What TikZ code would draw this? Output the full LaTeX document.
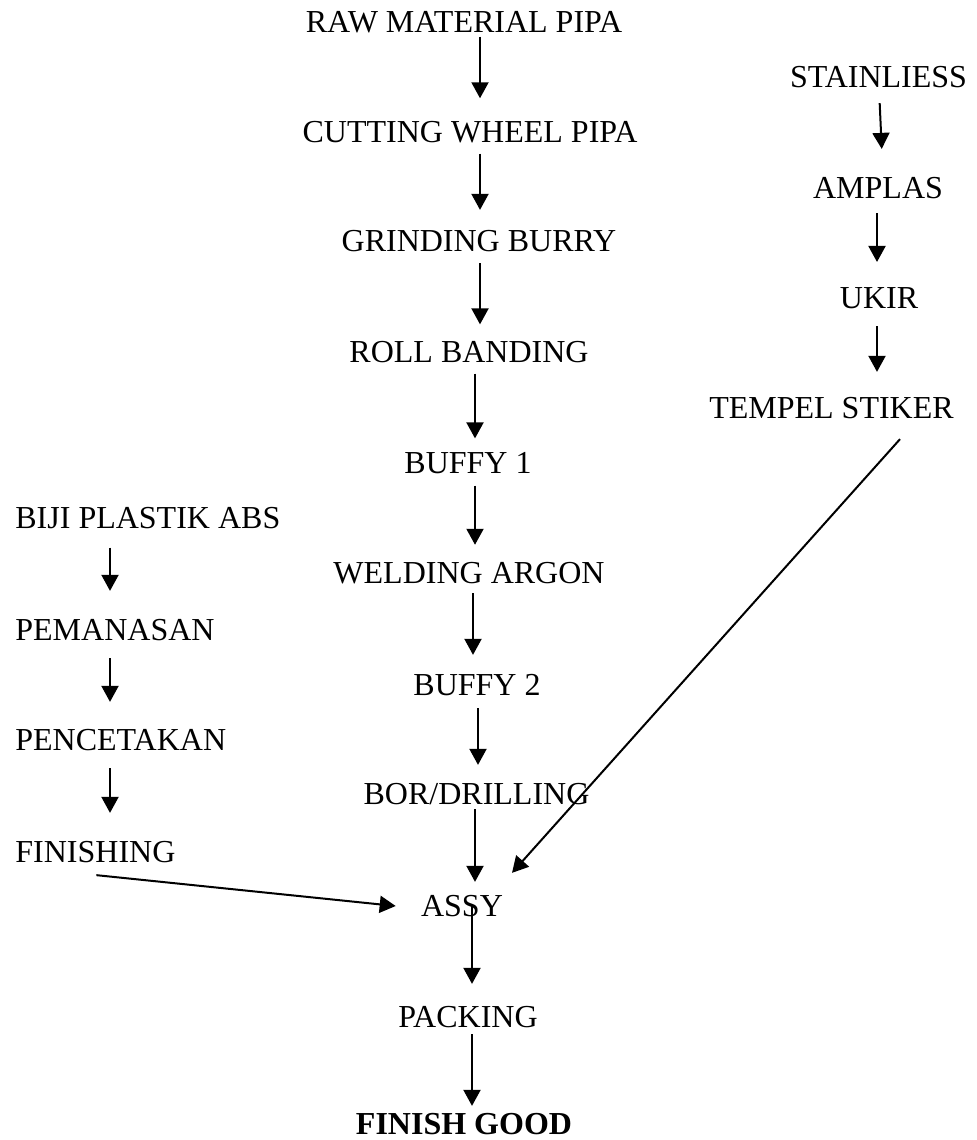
\documentclass[tikz,border=0pt]{standalone}
\usepackage{fontspec}
\setmainfont{Liberation Serif}
\usetikzlibrary{arrows.meta}
\begin{document}
\begin{tikzpicture}[x=0.5pt,y=-0.5pt,
  lbl/.style={inner sep=0pt,font=\fontsize{16}{19}\selectfont},
  lblw/.style={lbl,anchor=west},
  arr/.style={line width=1pt,-{Triangle[width=8.5pt,length=8pt]}}]
\useasboundingbox (0,0) rectangle (976,1140);
% main column
\node[lbl] (raw) at (464,22.5) {RAW MATERIAL PIPA};
\node[lbl] (cut) at (470,132.5) {CUTTING WHEEL PIPA};
\node[lbl] (grind) at (479,241) {GRINDING BURRY};
\node[lbl] (roll) at (469,352.5) {ROLL BANDING};
\node[lbl] (buf1) at (468,463.5) {BUFFY 1};
\node[lbl] (weld) at (469,573) {WELDING ARGON};
\node[lbl] (buf2) at (477,685) {BUFFY 2};
\node[lbl] (bor) at (476.5,794) {BOR/DRILLING};
\node[lbl] (assy) at (462,906) {ASSY};
\node[lbl] (pack) at (468,1017) {PACKING};
\node[lbl,font=\fontsize{16}{19}\selectfont\bfseries] (fin) at (464,1124) {FINISH GOOD};
% right column
\node[lbl] (stain) at (878.5,77) {STAINLIESS};
\node[lbl] (amplas) at (878,188) {AMPLAS};
\node[lbl] (ukir) at (879,298) {UKIR};
\node[lbl] (tempel) at (831.5,408) {TEMPEL STIKER};
% left column
\node[lblw] (biji) at (15,518.5) {BIJI PLASTIK ABS};
\node[lblw] (peman) at (15,630) {PEMANASAN};
\node[lblw] (pence) at (15,740) {PENCETAKAN};
\node[lblw] (finishing) at (15,852) {FINISHING};
% main arrows
\draw[arr,shorten <=1.5pt,shorten >=11.5pt] (raw.south -| 480,0) -- (cut.north -| 480,0);
\draw[arr,shorten <=5pt,shorten >=10pt] (cut.south -| 480,0) -- (grind.north -| 480,0);
\draw[arr,shorten <=5.5pt,shorten >=8.5pt] (grind.south -| 480,0) -- (roll.north -| 480,0);
\draw[arr,shorten <=5pt,shorten >=7pt] (roll.south -| 475,0) -- (buf1.north -| 475,0);
\draw[arr,shorten <=5.5pt,shorten >=8.5pt] (buf1.south -| 475,0) -- (weld.north -| 475,0);
\draw[arr,shorten <=4.5pt,shorten >=9.5pt] (weld.south -| 473,0) -- (buf2.north -| 473,0);
\draw[arr,shorten <=6pt,shorten >=9pt] (buf2.south -| 478,0) -- (bor.north -| 478,0);
\draw[arr,shorten <=2pt,shorten >=6.5pt] (bor.south -| 475,0) -- (assy.north -| 475,0);
\draw[arr,shorten <=-6pt,shorten >=11pt] (assy.south -| 472,0) -- (pack.north -| 472,0);
\draw[arr,shorten <=3pt,shorten >=3.5pt] (pack.south -| 472,0) -- (fin.north -| 472,0);
% right arrows
\draw[arr,shorten <=7.5pt,shorten >=14pt] (stain.south -| 879,0) -- (amplas.north -| 883,0);
\draw[arr,shorten <=7pt,shorten >=12.5pt] (amplas.south -| 877,0) -- (ukir.north -| 877,0);
\draw[arr,shorten <=8.5pt,shorten >=12.5pt] (ukir.south -| 877,0) -- (tempel.north -| 877,0);
\draw[arr] ([shift={(68.5,20)}]tempel.south) -- ([shift={(50,-22)}]assy.north);
% left arrows
\draw[arr,shorten <=9pt,shorten >=14pt] (biji.south -| 110,0) -- (peman.north -| 110,0);
\draw[arr,shorten <=8.5pt,shorten >=13.5pt] (peman.south -| 110,0) -- (pence.north -| 110,0);
\draw[arr,shorten <=8.5pt,shorten >=14pt] (pence.south -| 110,0) -- (finishing.north -| 110,0);
\draw[arr] ([shift={(1,12)}]finishing.south) -- ([shift={(-25,0)}]assy.west);
\end{tikzpicture}
\end{document}
